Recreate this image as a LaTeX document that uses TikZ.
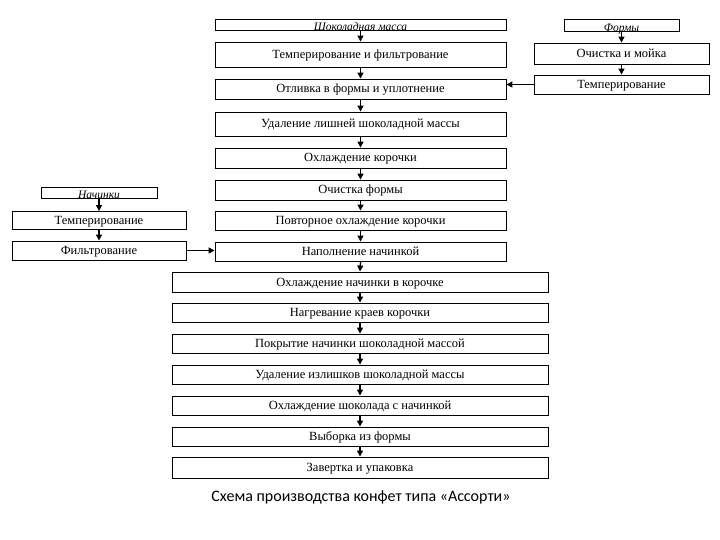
\documentclass[tikz,border=0pt]{standalone}
\usepackage{fontspec}
\setmainfont{Liberation Serif}
\newfontfamily\capfont{Carlito}
\usetikzlibrary{arrows.meta}
\begin{document}
\begin{tikzpicture}[x=1pt,y=-1pt,
  box/.style={draw, line width=0.9pt, inner sep=0pt, text height=8pt, text depth=0pt, font=\fontsize{12.5}{14}\selectfont},
  head/.style={draw, line width=0.9pt, inner sep=0pt},
  headtext/.style={anchor=base, inner sep=0pt, font=\fontsize{11.5}{13}\selectfont\itshape},
  arr/.style={line width=1.3pt, -{Triangle[length=6pt,width=6pt]}}]
\useasboundingbox (0,0) rectangle (720,540);
% main column
\node[head, minimum width=291pt, minimum height=11pt] (m0) at (360.5,24.5) {};
\node[headtext] (m0t) at (360.5,31) {Шоколадная масса};
\node[box, minimum width=291pt, minimum height=25pt] (m1) at (360.5,54.5) {Темперирование и фильтрование};
\node[box, minimum width=291pt, minimum height=20pt] (m2) at (360.5,89) {Отливка в формы и уплотнение};
\node[box, minimum width=291pt, minimum height=24pt] (m3) at (360.5,124) {Удаление лишней шоколадной массы};
\node[box, minimum width=291pt, minimum height=20pt] (m4) at (360.5,158) {Охлаждение корочки};
\node[box, minimum width=291pt, minimum height=20pt] (m5) at (360.5,190) {Очистка формы};
\node[box, minimum width=291pt, minimum height=19pt] (m6) at (360.5,220.5) {Повторное охлаждение корочки};
\node[box, minimum width=291pt, minimum height=19pt] (m7) at (360.5,251.5) {Наполнение начинкой};
% wide column
\node[box, minimum width=376pt, minimum height=20pt] (w1) at (360,282) {Охлаждение начинки в корочке};
\node[box, minimum width=376pt, minimum height=19pt] (w2) at (360,312.5) {Нагревание краев корочки};
\node[box, minimum width=376pt, minimum height=19pt] (w3) at (360,343.5) {Покрытие начинки шоколадной массой};
\node[box, minimum width=376pt, minimum height=19pt] (w4) at (360,374.5) {Удаление излишков шоколадной массы};
\node[box, minimum width=376pt, minimum height=19pt] (w5) at (360,405.5) {Охлаждение шоколада с начинкой};
\node[box, minimum width=376pt, minimum height=19pt] (w6) at (360,436.5) {Выборка из формы};
\node[box, minimum width=376pt, minimum height=21pt] (w7) at (360,467.5) {Завертка и упаковка};
% right column
\node[head, minimum width=115pt, minimum height=12pt] (r0) at (621.5,25) {};
\node[headtext] (r0t) at (621.5,32) {Формы};
\node[box, minimum width=175pt, minimum height=21pt] (r1) at (621.5,53.5) {Очистка и мойка};
\node[box, minimum width=175pt, minimum height=19pt] (r2) at (621.5,84.5) {Темперирование};
% left column
\node[head, minimum width=116pt, minimum height=11pt] (l0) at (99,192.5) {};
\node[headtext] (l0t) at (99,199) {Начинки};
\node[box, minimum width=174pt, minimum height=18pt] (l1) at (99,220.5) {Темперирование};
\node[box, minimum width=174pt, minimum height=19pt] (l2) at (99,250.5) {Фильтрование};
% caption
\node[inner sep=0pt, font=\capfont\fontsize{16}{18}\selectfont] (cap) at (361,497) {Схема производства конфет типа «Ассорти»};
% arrows
\foreach \a/\b in {m0/m1,m1/m2,m2/m3,m3/m4,m4/m5,m5/m6,m6/m7,m7/w1,w1/w2,w2/w3,w3/w4,w4/w5,w5/w6,w6/w7,r0/r1,r1/r2,l0/l1,l1/l2}
  \draw[arr] (\a.south) -- (\b.north);
\draw[arr] (r2.west) -- (r2.west -| m2.east);
\draw[arr] (l2.east) -- (l2.east -| m7.west);
\end{tikzpicture}
\end{document}
